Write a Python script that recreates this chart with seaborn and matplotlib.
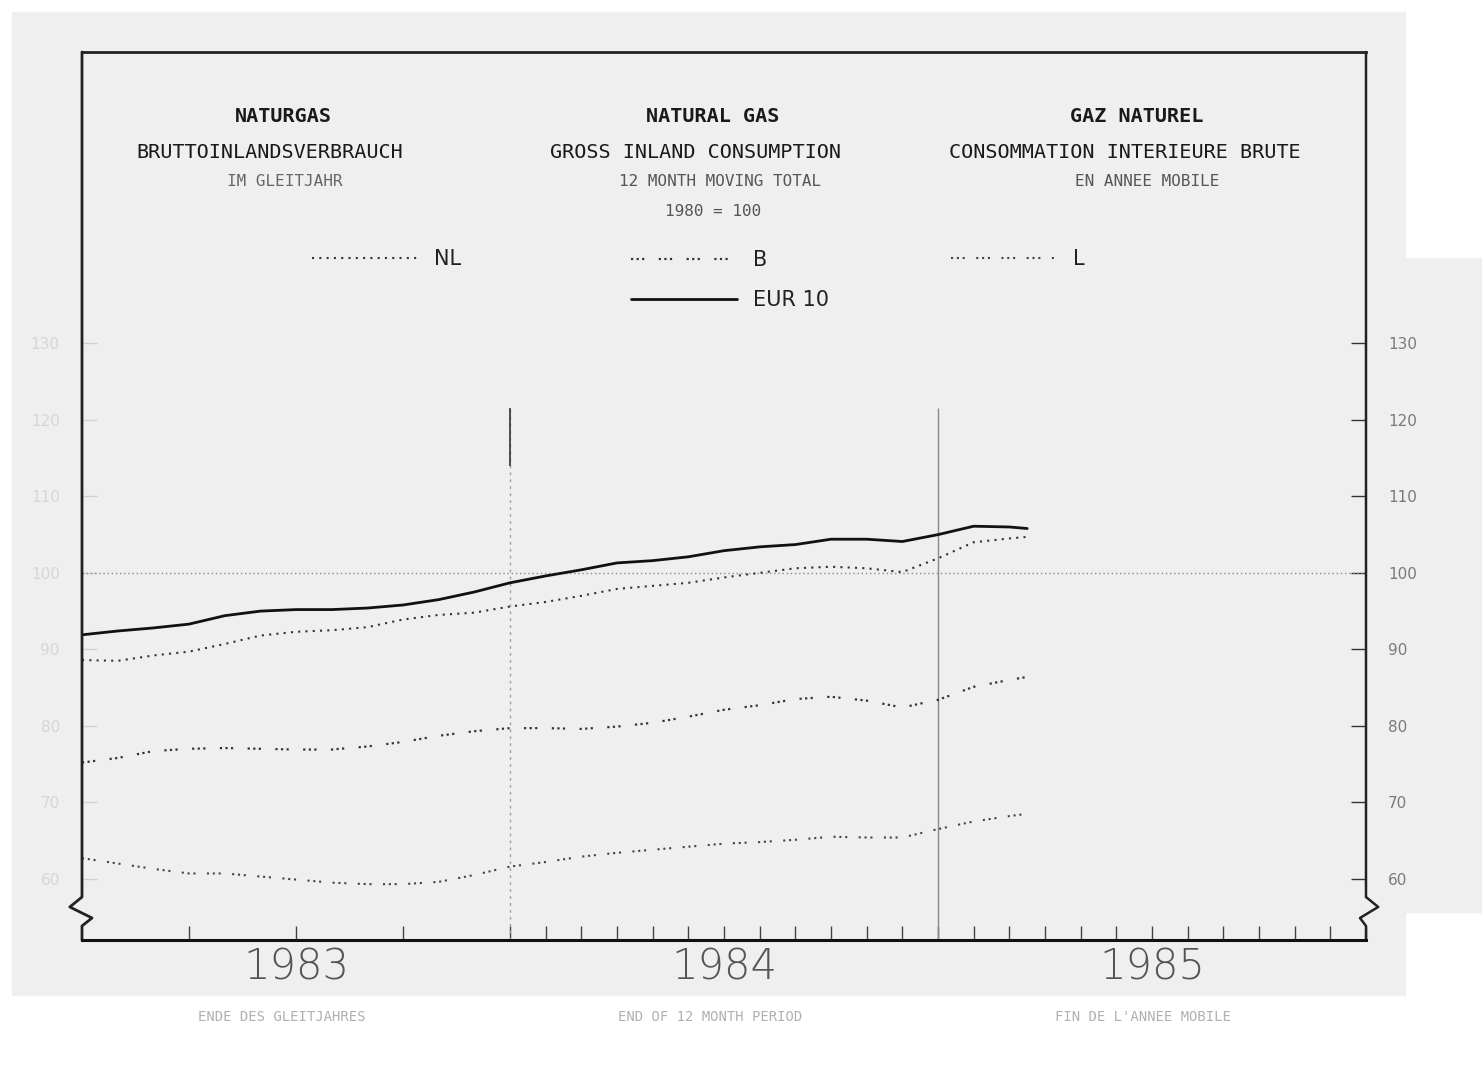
"""Natural gas gross inland consumption, 12 month moving total (1980 = 100)"""
import matplotlib
matplotlib.use("Agg")
import matplotlib.pyplot as plt
from matplotlib.patches import Rectangle
from matplotlib.legend import Legend
import pandas as pd
import seaborn as sns

sns.set_style("white")
plt.rcParams["font.family"] = ["DejaVu Sans"]

# months counted from January 1983 (0 = start of 1983)
months = [0, 1, 2, 3, 4, 5, 6, 7, 8, 9, 10, 11, 12, 13, 14, 15, 16, 17, 18, 19,
          20, 21, 22, 23, 24, 25, 26, 26.5]
eur10 = [91.9, 92.4, 92.8, 93.3, 94.4, 95.0, 95.2, 95.2, 95.4, 95.8, 96.5, 97.5,
         98.7, 99.6, 100.4, 101.3, 101.6, 102.1, 102.9, 103.4, 103.7, 104.4,
         104.4, 104.1, 105.0, 106.1, 106.0, 105.8]
nl = [88.6, 88.5, 89.2, 89.7, 90.7, 91.8, 92.3, 92.5, 92.9, 93.9, 94.5, 94.8,
      95.6, 96.2, 97.0, 97.9, 98.3, 98.7, 99.4, 100.0, 100.6, 100.8, 100.6,
      100.1, 101.9, 104.0, 104.5, 104.7]
b = [75.2, 75.8, 76.7, 77.0, 77.1, 77.0, 76.9, 76.9, 77.3, 77.9, 78.7, 79.3,
     79.7, 79.7, 79.6, 79.9, 80.4, 81.2, 82.1, 82.7, 83.5, 83.8, 83.3, 82.4,
     83.4, 85.1, 86.0, 86.4]
lux = [62.7, 62.0, 61.3, 60.7, 60.7, 60.3, 59.9, 59.5, 59.3, 59.3, 59.6, 60.5,
       61.6, 62.2, 62.9, 63.4, 63.8, 64.2, 64.6, 64.8, 65.1, 65.5, 65.4, 65.4,
       66.5, 67.5, 68.2, 68.5]

years = ["1983", "1984", "1985"]
yticks = [60, 70, 80, 90, 100, 110, 120, 130]
xticks = [3, 6, 9, 12, 13, 14, 15, 16, 17, 18, 19, 20, 21, 22, 23, 24,
          25, 26, 27, 28, 29, 30, 31, 32, 33, 34, 35, 36]

df = pd.DataFrame({"month": months, "EUR 10": eur10, "NL": nl, "B": b, "L": lux})

W, H = 1482, 1069
fig = plt.figure(figsize=(W / 100, H / 100), dpi=100, facecolor="white")


def fx(px):
    return px / W


def fy(py):
    return 1 - py / H


# scanned page background
fig.patches.append(Rectangle((fx(12), fy(995)), fx(1405) - fx(12), fy(12) - fy(995),
                             transform=fig.transFigure, color="#efefef", zorder=-5))
fig.patches.append(Rectangle((fx(1405), fy(912)), fx(W) - fx(1405), fy(258) - fy(912),
                             transform=fig.transFigure, color="#efefef", zorder=-5))

ax = fig.add_axes([fx(82), fy(940), fx(1366) - fx(82), fy(52) - fy(940)])
ax.set_zorder(2)
ax.patch.set_alpha(0)

DOT = (0, (1, 2.5))
B_DASH = (0, (1, 1.5, 1, 1.5, 1, 6.5))
L_DASH = (0, (1, 1.8, 1, 1.8, 1, 5.5))

sns.lineplot(data=df, x="month", y="EUR 10", ax=ax, color="#111111", linewidth=2.0,
             label="EUR 10", legend=False)
sns.lineplot(data=df, x="month", y="NL", ax=ax, color="#333333", linewidth=1.5,
             linestyle=DOT, label="NL", legend=False)
sns.lineplot(data=df, x="month", y="B", ax=ax, color="#333333", linewidth=1.6,
             linestyle=B_DASH, label="B", legend=False)
sns.lineplot(data=df, x="month", y="L", ax=ax, color="#444444", linewidth=1.5,
             linestyle=L_DASH, label="L", legend=False)

ax.set_xlim(0, 36)
ax.set_ylim(52.0, 168.1)
ax.set_xlabel("")
ax.set_ylabel("")

# reference lines
ax.axhline(100, color="#8a8a8a", linewidth=1, linestyle=(0, (1, 2)), zorder=1)
ax.vlines(12, 52, 121.6, color="#a0a0a0", linewidth=1, linestyle=(0, (2, 3)), zorder=1)
ax.vlines(12, 114, 121.6, color="#333333", linewidth=1.2, zorder=1)
ax.vlines(24, 52, 121.6, color="#8a8a8a", linewidth=1, zorder=1)

# frame: top and bottom spines, hand-drawn left/right with axis breaks
for side in ["left", "right"]:
    ax.spines[side].set_visible(False)
ax.spines["top"].set_linewidth(2)
ax.spines["bottom"].set_linewidth(2.2)
ax.spines["top"].set_color("#222222")
ax.spines["bottom"].set_color("#111111")

brk_y = [1, 0.0484, 0.0372, 0.0248, 0.0158, 0]
ax.plot([0, 0, -0.0095, 0.0078, 0, 0], brk_y, transform=ax.transAxes,
        color="#222222", linewidth=2, clip_on=False)
ax.plot([1, 1, 1.0095, 0.9953, 1, 1], brk_y, transform=ax.transAxes,
        color="#222222", linewidth=1.8, clip_on=False)

# y ticks: faint on the left, grey on the right
ax.set_yticks(yticks)
ax.set_yticklabels([str(v) for v in yticks])
ax.tick_params(axis="y", left=True, right=True, labelleft=True, labelright=True,
               direction="in", length=11, width=1, labelsize=11)
ax.tick_params(axis="y", which="major", pad=16)
for t in ax.yaxis.get_major_ticks():
    t.tick1line.set_markeredgecolor("#d2d2d2")
    t.tick2line.set_markeredgecolor("#333333")
    t.label1.set_color("#d6d6d6")
    t.label2.set_color("#7a7a7a")

# x ticks: months, labels as year names
ax.set_xticks(xticks)
ax.set_xticklabels([])
ax.tick_params(axis="x", bottom=True, direction="in", length=10, width=1,
               color="#444444")

for i, yr in enumerate(years):
    ax.text(6 + 12 * i, -0.03, yr, transform=ax.get_xaxis_transform(),
            ha="center", va="center", fontsize=30, color="#555555",
            fontweight="light")

captions = ["ENDE DES GLEITJAHRES", "END OF 12 MONTH PERIOD", "FIN DE L'ANNEE MOBILE"]
for px, cap in zip([282, 710, 1143], captions):
    fig.text(fx(px), fy(1017), cap, ha="center", va="center", fontsize=10,
             color="#b0b0b0", family="DejaVu Sans Mono")

# header text blocks in three languages
mono = "DejaVu Sans Mono"
header = [
    (283, 116, "NATURGAS", 14.5, "#1a1a1a", "bold"),
    (270, 152, "BRUTTOINLANDSVERBRAUCH", 14.5, "#1a1a1a", "normal"),
    (285, 182, "IM GLEITJAHR", 11.5, "#666666", "normal"),
    (713, 116, "NATURAL GAS", 14.5, "#1a1a1a", "bold"),
    (695, 152, "GROSS INLAND CONSUMPTION", 14.5, "#1a1a1a", "normal"),
    (720, 182, "12 MONTH MOVING TOTAL", 11.5, "#555555", "normal"),
    (713, 212, "1980 = 100", 11.5, "#555555", "normal"),
    (1137, 116, "GAZ NATUREL", 14.5, "#1a1a1a", "bold"),
    (1125, 152, "CONSOMMATION INTERIEURE BRUTE", 14.5, "#1a1a1a", "normal"),
    (1147, 182, "EN ANNEE MOBILE", 11.5, "#555555", "normal"),
]
for px, py, txt, fs, col, wt in header:
    fig.text(fx(px), fy(py), txt, ha="center", va="center", fontsize=fs,
             color=col, family=mono, fontweight=wt)

# legends placed as in the original, three groups
handles = {h.get_label(): h for h in ax.get_lines() if h.get_label() in df.columns}
leg_kw = dict(frameon=False, fontsize=15, handlelength=5.1, handletextpad=0.75,
              borderpad=0, borderaxespad=0, labelspacing=0.95,
              bbox_transform=fig.transFigure, loc="center left")
leg_nl = Legend(ax, [handles["NL"]], ["NL"], bbox_to_anchor=(fx(312), fy(259)), **leg_kw)
leg_l = Legend(ax, [handles["L"]], ["L"], bbox_to_anchor=(fx(951), fy(259)), **leg_kw)
ax.add_artist(leg_nl)
ax.add_artist(leg_l)
leg = ax.legend([handles["B"], handles["EUR 10"]], ["B", "EUR 10"],
                bbox_to_anchor=(fx(631), fy(280)), **leg_kw)
for lg in [leg_nl, leg_l, leg]:
    for txt in lg.get_texts():
        txt.set_color("#222222")

fig.savefig("out.png", dpi=100, facecolor=fig.get_facecolor())
